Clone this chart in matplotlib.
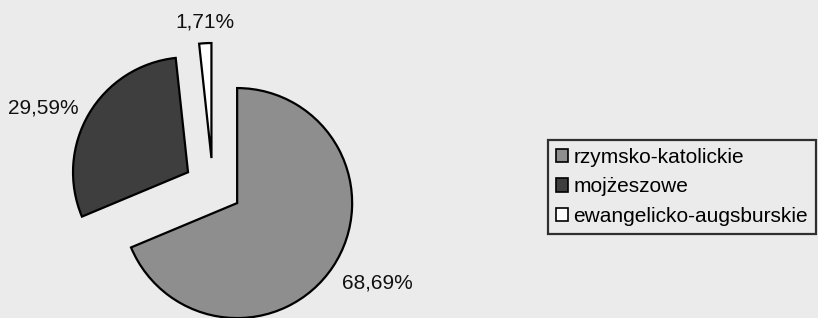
import matplotlib
matplotlib.use("Agg")
import matplotlib.pyplot as plt

plt.rcParams['font.family'] = ['Liberation Sans', 'DejaVu Sans']

# data
categories = ['rzymsko-katolickie', 'mojżeszowe', 'ewangelicko-augsburskie']
shares = [68.69, 29.59, 1.71]
colors = ['#8e8e8e', '#3e3e3e', '#ffffff']
bg = '#ebebeb'

fig = plt.figure(figsize=(8.18, 3.18), dpi=100, facecolor=bg)
ax = fig.add_axes([0, 0, 1, 1])
ax.set_facecolor(bg)

labels = [f"{v:.2f}".replace('.', ',') + '%' for v in shares]

# explode is in data units here (pixels), radius 115
wedges, texts = ax.pie(shares, labels=labels, colors=colors, startangle=90,
                       counterclock=False, explode=[29] * 3,
                       center=(213, 131), radius=115, labeldistance=1.10,
                       wedgeprops=dict(edgecolor='black', linewidth=1.6),
                       textprops=dict(fontsize=15, color='#111111'),
                       frame=True)
ax.axis('off')
ax.set_xlim(0, 818)
ax.set_ylim(0, 318)
ax.set_aspect('equal')
texts[0].set_ha('left')
texts[0].set_va('top')
texts[1].set_ha('right')
texts[2].set_ha('center')
texts[2].set_va('bottom')

leg = fig.legend(wedges, categories, loc='upper right',
                 bbox_to_anchor=(816 / 818, 1 - 140 / 318),
                 fontsize=15, frameon=True, fancybox=False, borderaxespad=0,
                 handlelength=0.6, handleheight=0.6, handletextpad=0.25,
                 labelspacing=0.5, borderpad=0.38, facecolor=bg,
                 edgecolor='black')
leg.get_frame().set_linewidth(1.6)
for h in leg.legend_handles:
    h.set_linewidth(1.2)

fig.savefig('out.png', dpi=100, facecolor=bg)
